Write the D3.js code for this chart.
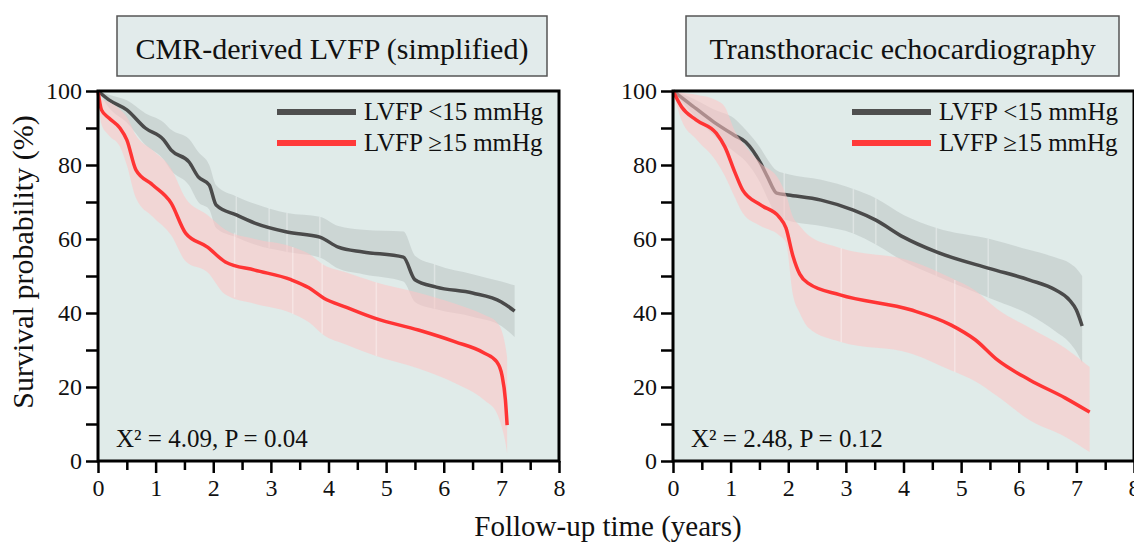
<!DOCTYPE html>
<meta charset="utf-8">
<style>
body { margin: 0; background: #fff; }
svg { display: block; font-family: "Liberation Serif", "Times New Roman", serif; }
</style>
<script src="https://d3js.org/d3.v7.min.js"></script>
<body>
<svg id="chart" width="1134" height="543"></svg>
<script>
// ---- data ----
var xTickVals = [0, 1, 2, 3, 4, 5, 6, 7, 8];
var yTickVals = [0, 20, 40, 60, 80, 100];
var groupLabels = ["LVFP <15 mmHg", "LVFP \u226515 mmHg"];

// CMR panel, LVFP <15
var cmrLowT     = [0, 0.19, 0.5, 0.82, 1.14, 1.27, 1.58, 1.74, 1.93, 2.05, 2.4, 2.72, 3.28, 3.85, 4.17, 4.6, 5.3, 5.5, 5.87, 6.5, 7.0, 7.23];
var cmrLowSurv  = [100, 97.6, 94.9, 90, 86.8, 84, 80.8, 76.8, 74.6, 69.2, 66.5, 64.3, 61.9, 60.5, 57.8, 56.5, 55.1, 49, 47, 45.4, 43, 40.5];
var cmrLowUpper = [100, 99, 97.5, 94, 91.5, 89.5, 87, 83.5, 80, 74.5, 71.5, 69.5, 67, 66, 63.5, 62.5, 62, 55.5, 53, 50.5, 48.5, 47.5];
var cmrLowLower = [100, 95.5, 91.5, 85.5, 81.5, 78.5, 74.5, 70, 68, 63, 60.5, 58.5, 56.5, 55, 52, 50.5, 48.5, 43, 41, 39, 36.5, 33.5];
var cmrLowSeams = [2.4, 2.97, 3.28, 3.85, 5.84];

// CMR panel, LVFP >=15
var cmrHighT     = [0, 0.06, 0.19, 0.38, 0.5, 0.66, 0.95, 1.27, 1.52, 1.9, 2.21, 2.72, 3.35, 3.66, 3.92, 4.3, 4.8, 5.56, 6.2, 6.7, 6.92, 7.01, 7.07, 7.1];
var cmrHighSurv  = [100, 94.9, 92.7, 90, 86.8, 78.6, 74.6, 69.7, 61.6, 57.8, 53.8, 51.6, 49, 46.8, 44, 41.6, 38.6, 35.4, 32.2, 29.2, 26.8, 23.2, 16.5, 9.7];
var cmrHighUpper = [100, 98, 97, 95, 93, 88, 84, 79, 71, 66.5, 62.5, 60, 58, 56, 53, 51, 48.4, 45.5, 42.5, 39.5, 37.5, 35, 31, 28];
var cmrHighLower = [100, 91, 88, 85, 80, 71, 66, 61, 54, 51, 45, 42.5, 40, 37.5, 34, 31.5, 28.5, 25, 21, 16.5, 13, 9, 5, 2];
var cmrHighSeams = [2.37, 3.38, 3.89, 4.83];

// TTE panel, LVFP <15
var tteLowT     = [0, 0.27, 0.71, 1.07, 1.26, 1.52, 1.64, 1.8, 2.0, 2.57, 3.13, 3.52, 4.0, 4.57, 5.5, 6.19, 6.64, 6.88, 7.0, 7.1];
var tteLowSurv  = [100, 96.8, 91.6, 88, 86.2, 80.5, 76.8, 72.4, 71.9, 70.5, 67.8, 65.1, 60.5, 56.5, 52, 48.9, 46.2, 43.5, 40.8, 36.5];
var tteLowUpper = [100, 98.5, 95, 92.5, 89.5, 84.5, 81.5, 78.5, 77.5, 76, 73.5, 71, 66.5, 63, 60, 57, 55, 53.5, 52, 50];
var tteLowLower = [100, 95, 88, 83.5, 81, 75, 71, 66.5, 65, 63.5, 61.5, 58.5, 54, 50, 44, 39.5, 35, 32, 29.5, 26.5];
var tteLowSeams = [1.93, 3.13, 3.52, 4.57, 5.47];

// TTE panel, LVFP >=15
var tteHighT     = [0, 0.15, 0.4, 0.75, 0.9, 1.08, 1.21, 1.52, 1.84, 1.96, 2.08, 2.2, 2.35, 2.9, 4.14, 4.82, 5.25, 5.63, 6.19, 6.81, 7.23];
var tteHighSurv  = [100, 95.7, 92.2, 88.6, 84.9, 77.8, 73.2, 69.2, 66, 63, 55.5, 50.5, 48, 44.9, 40.8, 36.8, 32.7, 27.3, 21.9, 17, 13.2];
var tteHighUpper = [100, 99.5, 99, 97.5, 95.7, 89, 86, 80.5, 76, 72, 66, 63.5, 61, 57.6, 54, 49.5, 46, 41, 36, 30.5, 25.4];
var tteHighLower = [100, 92, 87, 81, 77, 71, 67, 63.5, 61, 59, 45, 40, 36, 32.2, 29, 24.5, 21.5, 17.5, 11, 6.5, 2.4];
var tteHighSeams = [2.92, 4.89];

var panels = [
  { title: "CMR-derived LVFP (simplified)", stat: "X\u00b2 = 4.09, P = 0.04",
    low:  { t: cmrLowT, s: cmrLowSurv, up: cmrLowUpper, lo: cmrLowLower, seams: cmrLowSeams },
    high: { t: cmrHighT, s: cmrHighSurv, up: cmrHighUpper, lo: cmrHighLower, seams: cmrHighSeams },
    x0: 98, titleBox: [117, 547] },
  { title: "Transthoracic echocardiography", stat: "X\u00b2 = 2.48, P = 0.12",
    low:  { t: tteLowT, s: tteLowSurv, up: tteLowUpper, lo: tteLowLower, seams: tteLowSeams },
    high: { t: tteHighT, s: tteHighSurv, up: tteHighUpper, lo: tteHighLower, seams: tteHighSeams },
    x0: 673, titleBox: [686, 1119] }
];

var svg = d3.select("#chart");
var plotW = 461, plotTop = 91, plotBottom = 461;
var grayLine = "#4a4a4a", redLine = "#ff3434";

function rows(d) {
  return d.t.map(function(t, i) { return { t: t, s: d.s[i], up: d.up[i], lo: d.lo[i] }; });
}

function drawPanel(p) {
  var x = d3.scaleLinear().domain([0, 8]).range([p.x0, p.x0 + plotW]);
  var y = d3.scaleLinear().domain([0, 100]).range([plotBottom, plotTop]);
  var g = svg.append("g");

  // title box
  g.append("rect")
    .attr("x", p.titleBox[0]).attr("y", 16)
    .attr("width", p.titleBox[1] - p.titleBox[0]).attr("height", 60)
    .attr("fill", "#e2ebeb").attr("stroke", "#555").attr("stroke-width", 1.5);
  g.append("text")
    .attr("x", (p.titleBox[0] + p.titleBox[1]) / 2).attr("y", 59)
    .attr("text-anchor", "middle").attr("font-size", 30).attr("fill", "#111")
    .text(p.title);

  // plot background
  g.append("rect")
    .attr("x", x(0)).attr("y", y(100))
    .attr("width", x(8) - x(0)).attr("height", y(0) - y(100))
    .attr("fill", "#e0ebe9");

  var band = d3.area().curve(d3.curveMonotoneX)
    .x(function(d) { return x(d.t); })
    .y0(function(d) { return y(d.lo); })
    .y1(function(d) { return y(d.up); });
  var line = d3.line().curve(d3.curveMonotoneX)
    .x(function(d) { return x(d.t); })
    .y(function(d) { return y(d.s); });

  function seams(d, layer) {
    d.seams.forEach(function(t) {
      var up = d3.scaleLinear().domain(d.t).range(d.up)(t);
      var lo = d3.scaleLinear().domain(d.t).range(d.lo)(t);
      layer.append("line")
        .attr("x1", x(t)).attr("x2", x(t))
        .attr("y1", y(up)).attr("y2", y(lo))
        .attr("stroke", "#ffffff").attr("stroke-opacity", 0.35).attr("stroke-width", 1.5);
    });
  }

  var lowRows = rows(p.low), highRows = rows(p.high);

  g.append("path").datum(lowRows).attr("d", band)
    .attr("fill", "#8f9898").attr("fill-opacity", 0.25);
  seams(p.low, g);
  g.append("path").datum(lowRows).attr("d", line)
    .attr("fill", "none").attr("stroke", grayLine).attr("stroke-width", 3.5);

  g.append("path").datum(highRows).attr("d", band)
    .attr("fill", "#ffc4c4").attr("fill-opacity", 0.55);
  seams(p.high, g);
  g.append("path").datum(highRows).attr("d", line)
    .attr("fill", "none").attr("stroke", redLine).attr("stroke-width", 3.5);

  // legend
  var lg = [ { label: groupLabels[0], color: "#4f4f4f", yy: 112 },
             { label: groupLabels[1], color: "#ff3a3a", yy: 143 } ];
  lg.forEach(function(l) {
    g.append("line")
      .attr("x1", x(0) + 179).attr("x2", x(0) + 258)
      .attr("y1", l.yy).attr("y2", l.yy)
      .attr("stroke", l.color).attr("stroke-width", 6);
    g.append("text")
      .attr("x", x(0) + 266).attr("y", l.yy + 8)
      .attr("font-size", 25).attr("fill", "#111")
      .text(l.label);
  });

  // statistic
  g.append("text")
    .attr("x", x(0) + 18).attr("y", 447)
    .attr("font-size", 25).attr("fill", "#111")
    .text(p.stat);

  // frame
  g.append("rect")
    .attr("x", x(0)).attr("y", y(100))
    .attr("width", x(8) - x(0)).attr("height", y(0) - y(100))
    .attr("fill", "none").attr("stroke", "#000").attr("stroke-width", 3);

  // y axis
  var yAxis = d3.axisLeft(y).tickValues(d3.range(0, 101, 10)).tickSize(12).tickPadding(4)
    .tickFormat(function(d) { return yTickVals.indexOf(d) >= 0 ? d : ""; });
  var ya = g.append("g").attr("transform", "translate(" + x(0) + ",0)").call(yAxis);
  ya.select(".domain").remove();
  ya.selectAll("line").attr("stroke", "#000").attr("stroke-width", 2.5);
  ya.selectAll("text").attr("font-size", 24).attr("font-family", "Liberation Serif, serif").attr("fill", "#111");

  // x axis, major + minor
  var xa = g.append("g").attr("transform", "translate(0," + y(0) + ")")
    .call(d3.axisBottom(x).tickValues(xTickVals).tickSize(12).tickPadding(6).tickFormat(d3.format("d")));
  xa.select(".domain").remove();
  xa.selectAll("line").attr("stroke", "#000").attr("stroke-width", 2.5);
  xa.selectAll("text").attr("font-size", 24).attr("font-family", "Liberation Serif, serif").attr("fill", "#111");
  var xm = g.append("g").attr("transform", "translate(0," + y(0) + ")")
    .call(d3.axisBottom(x).tickValues(d3.range(0.5, 8, 1)).tickSize(9).tickFormat(""));
  xm.select(".domain").remove();
  xm.selectAll("line").attr("stroke", "#000").attr("stroke-width", 2.5);
}

panels.forEach(drawPanel);

// shared axis titles
svg.append("text")
  .attr("transform", "translate(33,262) rotate(-90)")
  .attr("text-anchor", "middle").attr("font-size", 30).attr("fill", "#111")
  .text("Survival probability (%)");
svg.append("text")
  .attr("x", 608).attr("y", 536)
  .attr("text-anchor", "middle").attr("font-size", 29).attr("fill", "#111")
  .text("Follow-up time (years)");
</script>
</body>
